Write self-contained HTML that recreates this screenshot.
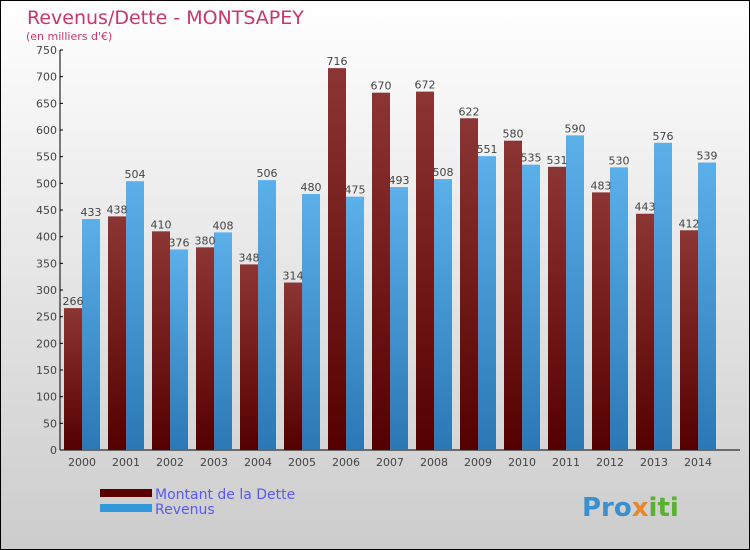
<!DOCTYPE html>
<html><head><meta charset="utf-8"><style>
body{margin:0;width:750px;height:550px;overflow:hidden;font-family:"DejaVu Sans","Liberation Sans",sans-serif}
svg{display:block}
</style></head><body>
<svg width="750" height="550" xmlns="http://www.w3.org/2000/svg">
<defs>
<linearGradient id="bg" x1="0" y1="0" x2="0" y2="1"><stop offset="0" stop-color="#ffffff"/><stop offset="1" stop-color="#cccccc"/></linearGradient>
<linearGradient id="gd" x1="0" y1="0" x2="0" y2="1"><stop offset="0" stop-color="#8c3535"/><stop offset="1" stop-color="#550000"/></linearGradient>
<linearGradient id="gr" x1="0" y1="0" x2="0" y2="1"><stop offset="0" stop-color="#5bb0ea"/><stop offset="1" stop-color="#2a78b5"/></linearGradient>
</defs>
<rect x="0.5" y="0.5" width="749" height="549" fill="url(#bg)" stroke="#000"/>
<text x="27" y="24" font-size="19" fill="#c8366a">Revenus/Dette - MONTSAPEY</text>
<text x="26" y="40" font-size="11" fill="#c8366a">(en milliers d'€)</text>
<g id="axes"></g>
<g id="bars"></g>
<g>
<rect x="100" y="489" width="52" height="8" fill="#5a0000"/>
<text x="155" y="499" font-size="14" fill="#5a5aee">Montant de la Dette</text>
<rect x="100" y="504" width="52" height="8" fill="#3399dd"/>
<text x="155" y="514" font-size="14" fill="#5a5aee">Revenus</text>
</g>
<text x="582" y="516" font-size="26" font-weight="bold" fill="#3a8fd0">Pro<tspan fill="#e8862a">x</tspan><tspan fill="#5ab030">iti</tspan></text>
</svg>
<script>
const years=["2000","2001","2002","2003","2004","2005","2006","2007","2008","2009","2010","2011","2012","2013","2014"];
const dette=[266,438,410,380,348,314,716,670,672,622,580,531,483,443,412];
const revenus=[433,504,376,408,506,480,475,493,508,551,535,590,530,576,539];
const yTicks=[0,50,100,150,200,250,300,350,400,450,500,550,600,650,700,750];
const NS="http://www.w3.org/2000/svg";
const x0=60,step=44,bw=18,yBase=450,yTop=50,yMax=750;
const y=v=>yBase-(v/yMax)*(yBase-yTop);
const xc=i=>x0+22+i*step;
function mk(t,a,p){const e=document.createElementNS(NS,t);for(const k in a)e.setAttribute(k,a[k]);p.appendChild(e);return e;}
const ax=document.getElementById('axes'),bars=document.getElementById('bars');
const yl=mk('line',{x1:x0,y1:yTop,x2:x0,y2:yBase,stroke:'#000'},ax);


const xl=mk('line',{x1:x0,y1:yBase,x2:740,y2:yBase,stroke:'#000'},ax);


yTicks.forEach(v=>{
 mk('line',{x1:x0,y1:y(v),x2:x0+3,y2:y(v),stroke:'#000'},ax);
 const t=mk('text',{x:x0-3,y:y(v)+4,'font-size':11,fill:'#444','text-anchor':'end'},ax);
 t.textContent=v;
 
 
});
years.forEach((yr,i)=>{
 const c=xc(i);
 const t=mk('text',{x:c,y:466,'font-size':11,fill:'#444','text-anchor':'middle'},ax);
 t.textContent=yr;
 
 
 const d=mk('rect',{x:c-bw,y:y(dette[i]),width:bw,height:yBase-y(dette[i]),fill:'url(#gd)'},bars);
 
 
 const r=mk('rect',{x:c,y:y(revenus[i]),width:bw,height:yBase-y(revenus[i]),fill:'url(#gr)'},bars);
 
 
 const dl=mk('text',{x:c-bw/2,y:y(dette[i])-3,'font-size':11,fill:'#444','text-anchor':'middle'},bars);
 dl.textContent=dette[i];
 
 
 const rl=mk('text',{x:c+bw/2,y:y(revenus[i])-3,'font-size':11,fill:'#444','text-anchor':'middle'},bars);
 rl.textContent=revenus[i];
 
 
});
</script>
</body></html>
